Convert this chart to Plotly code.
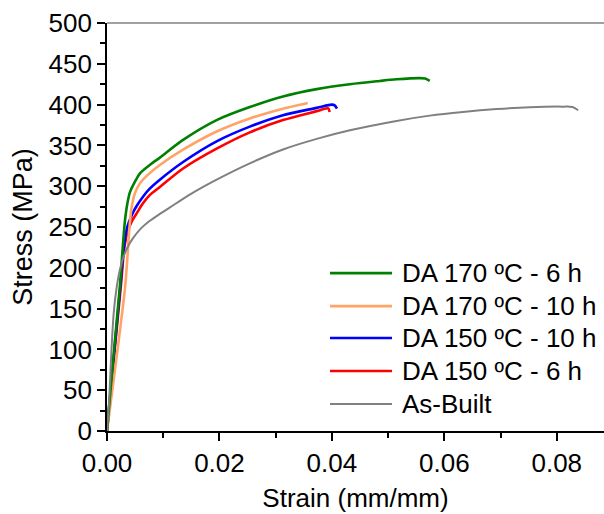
import plotly.graph_objects as go

# Tensile curves: engineering strain (mm/mm) vs stress (MPa)
strain_da170_6h = [0, 0.0011, 0.0023, 0.0028, 0.0032, 0.0036, 0.0041, 0.0050, 0.0059, 0.0076,
                   0.0094, 0.0136, 0.0195, 0.0254, 0.0313, 0.0373, 0.0432, 0.0485, 0.0515,
                   0.0556, 0.0566, 0.0574]
stress_da170_6h = [0, 88, 178, 225, 258, 278, 293, 306, 316, 326,
                   335, 357, 381, 397, 410, 419, 425, 429, 431,
                   432.5, 432, 429]

strain_da170_10h = [0, 0.0032, 0.0036, 0.0040, 0.0044, 0.0050, 0.0059, 0.0076, 0.0094, 0.0136,
                    0.0195, 0.0254, 0.0313, 0.0345, 0.0357]
stress_da170_10h = [0, 175, 210, 250, 275, 292, 304, 316, 326, 345,
                    367, 383, 395, 400, 402]

strain_da150_10h = [0, 0.0012, 0.0024, 0.0030, 0.0036, 0.0045, 0.0053, 0.0065, 0.0076, 0.0094,
                    0.0136, 0.0195, 0.0254, 0.0313, 0.0373, 0.0400, 0.0405, 0.0409]
stress_da150_10h = [0, 90, 180, 225, 250, 266, 276, 288, 297, 308,
                    330, 355, 373, 387, 396, 400, 399, 395]

strain_da150_6h = [0, 0.0012, 0.0025, 0.0031, 0.0037, 0.0045, 0.0053, 0.0064, 0.0076, 0.0094,
                   0.0136, 0.0195, 0.0254, 0.0313, 0.0373, 0.0393, 0.0396]
stress_da150_6h = [0, 88, 180, 225, 245, 258, 267, 279, 289, 299,
                   322, 346, 366, 381, 392, 395.5, 391]

strain_as_built = [0, 0.0004, 0.0008, 0.0012, 0.0017, 0.0023, 0.0030, 0.0038, 0.0046, 0.0060,
                   0.0075, 0.0094, 0.0112, 0.0148, 0.0195, 0.0254, 0.0313, 0.0373, 0.0432,
                   0.0515, 0.0574, 0.0633, 0.0693, 0.0752, 0.0811, 0.0828, 0.0838]
stress_as_built = [0, 40, 100, 145, 175, 198, 215, 227, 236, 248,
                   257, 266, 274, 290, 308, 328, 345, 358, 368.5,
                   380, 386.5, 391, 394.5, 396.8, 397.5, 397, 393]

names = ["DA 170 ºC - 6 h", "DA 170 ºC - 10 h", "DA 150 ºC - 10 h", "DA 150 ºC - 6 h", "As-Built"]
colors = ["#008000", "#FFA366", "#0000FF", "#FF0000", "#808080"]
widths = [2.6, 2.6, 2.6, 2.6, 2.0]
series = [(strain_da170_6h, stress_da170_6h), (strain_da170_10h, stress_da170_10h),
          (strain_da150_10h, stress_da150_10h), (strain_da150_6h, stress_da150_6h),
          (strain_as_built, stress_as_built)]

x_ticks = [0.00, 0.02, 0.04, 0.06, 0.08]
y_ticks = [0, 50, 100, 150, 200, 250, 300, 350, 400, 450, 500]

FONT = "Arial, 'Liberation Sans', sans-serif"

fig = go.Figure()
draw_order = [3, 2, 1, 0, 4]
for i in draw_order:
    x, y = series[i]
    fig.add_trace(go.Scatter(x=x, y=y, mode="lines", name=names[i], showlegend=False,
                             line=dict(color=colors[i], width=widths[i], shape="spline", smoothing=0.9)))

# Legend drawn as line swatches with text labels
row_y = [0.387, 0.306, 0.228, 0.147, 0.066]
for i, name in enumerate(names):
    fig.add_shape(type="line", xref="paper", yref="paper", x0=0.4487, x1=0.5734,
                  y0=row_y[i], y1=row_y[i], line=dict(color=colors[i], width=widths[i]))
    fig.add_annotation(xref="paper", yref="paper", x=0.5895, y=row_y[i], text=name,
                       showarrow=False, xanchor="left", yanchor="middle",
                       font=dict(family=FONT, size=26, color="black"))

# Grey frame line along the top of the plot area
fig.add_shape(type="line", xref="paper", yref="paper", x0=0, x1=1, y0=1, y1=1,
              line=dict(color="#808080", width=1.6))

axis_common = dict(showgrid=False, zeroline=False, showline=True, linecolor="black", linewidth=1.7,
                   ticks="outside", tickcolor="black", tickwidth=1.5, ticklen=8,
                   tickfont=dict(family=FONT, size=26, color="black"))

fig.update_xaxes(range=[0, 0.0884], tickvals=x_ticks, ticktext=[f"{v:.2f}" for v in x_ticks],
                 minor=dict(dtick=0.01, ticks="outside", ticklen=5, tickcolor="black", tickwidth=1.5),
                 title=dict(text="Strain (mm/mm)", font=dict(family=FONT, size=26, color="black"), standoff=12),
                 **axis_common)
fig.update_yaxes(range=[0, 500], tickvals=y_ticks,
                 minor=dict(dtick=25, ticks="outside", ticklen=5, tickcolor="black", tickwidth=1.5),
                 title=dict(text="Stress (MPa)", font=dict(family=FONT, size=27, color="black"), standoff=8),
                 **axis_common)

fig.update_layout(width=604, height=514, margin=dict(l=107, r=0, t=23, b=83),
                  paper_bgcolor="white", plot_bgcolor="white", showlegend=False)

fig.write_html("out.html")
